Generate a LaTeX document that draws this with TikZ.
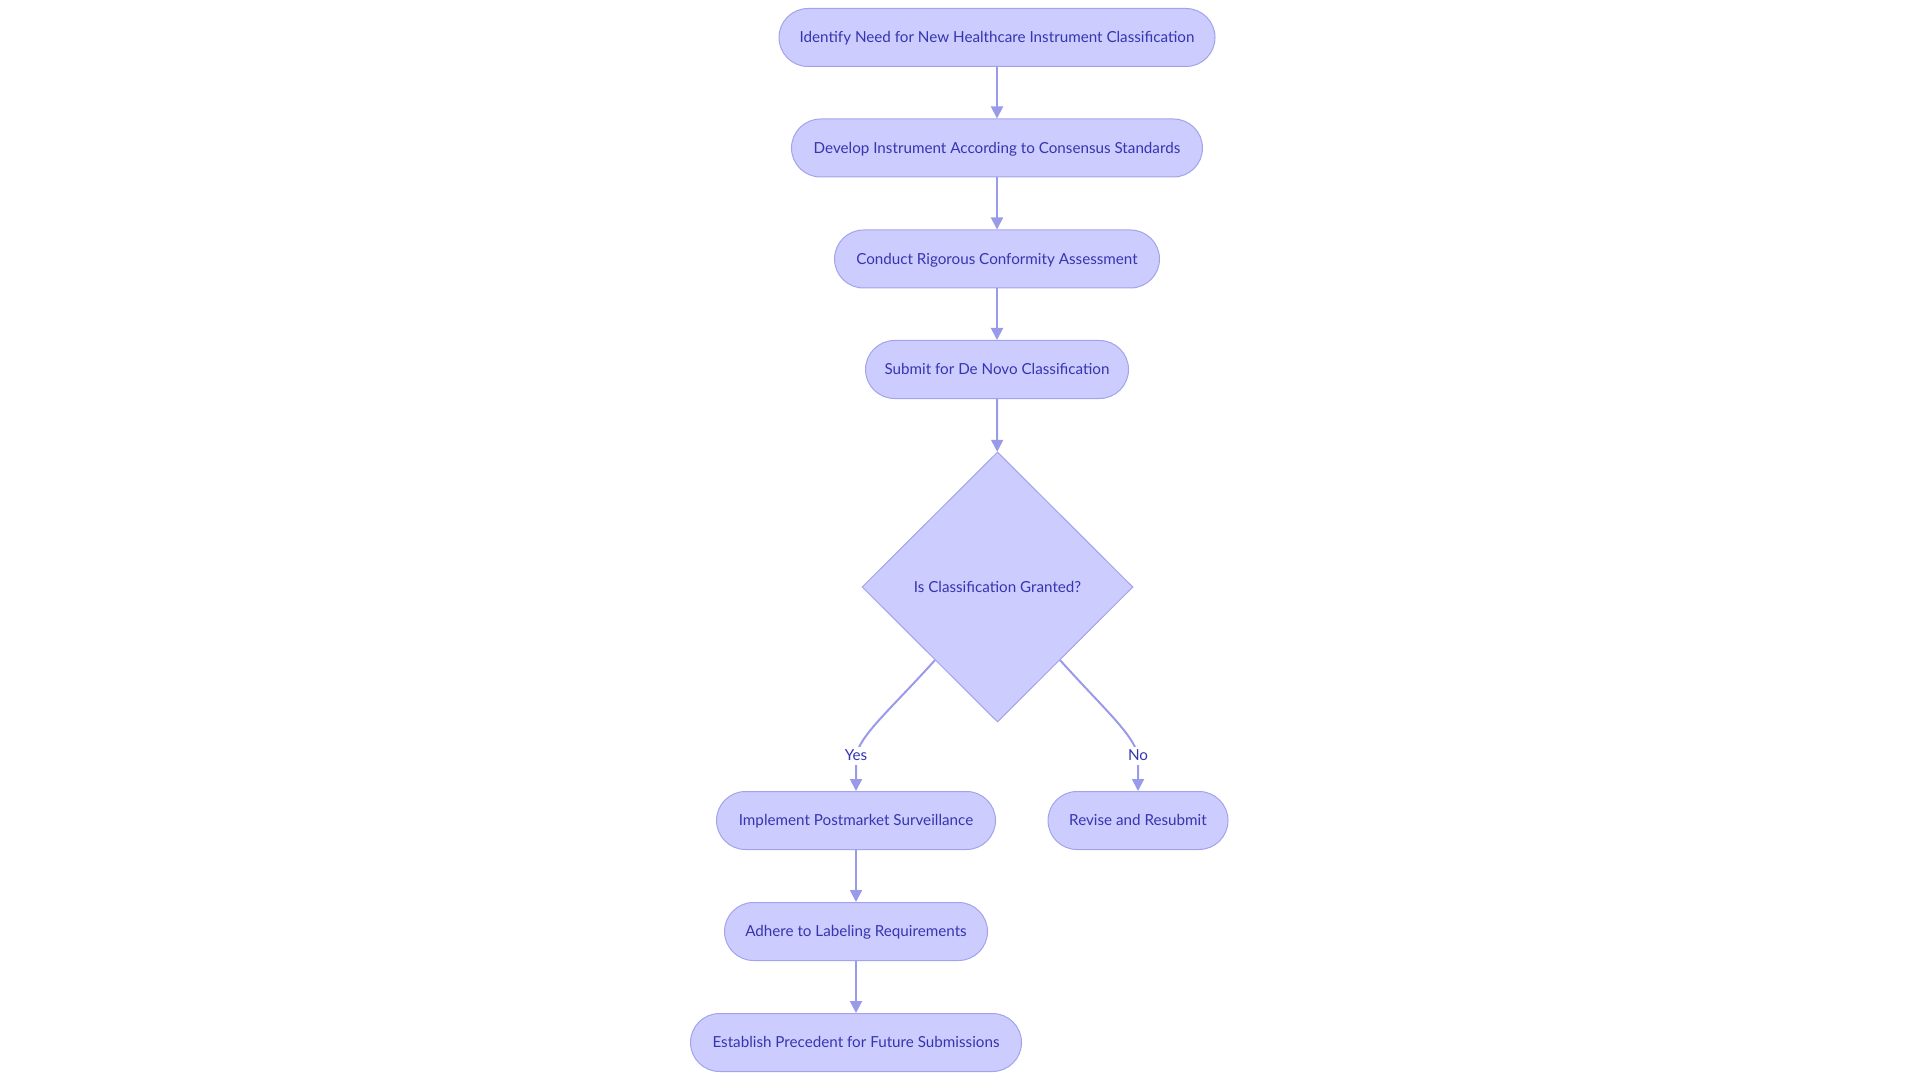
\documentclass[tikz,border=0pt]{standalone}
\usepackage{fontspec}
\setmainfont{Lato}
\usetikzlibrary{shapes.geometric,arrows.meta,calc}
\definecolor{boxfill}{HTML}{CCCCFF}
\definecolor{boxline}{HTML}{A3A3EC}
\definecolor{edgecol}{HTML}{9A9AEA}
\definecolor{txt}{HTML}{3535B0}
\begin{document}
\begin{tikzpicture}[x=0.5pt,y=-0.5pt,
  stepbox/.style={draw=boxline,fill=boxfill,line width=0.5pt,rounded corners=14.5pt,
    minimum height=29pt,inner sep=0pt,text height=6.4pt,text depth=1pt,text=txt,font=\fontsize{7.6pt}{9pt}\selectfont},
  decide/.style={diamond,draw=boxline,fill=boxfill,line width=0.5pt,minimum width=135.5pt,
    minimum height=135pt,inner sep=0pt,text height=6.4pt,text depth=1pt,text=txt,font=\fontsize{7.6pt}{9pt}\selectfont},
  conn/.style={draw=edgecol,line width=1pt,-{Triangle[length=6pt,width=6pt]}},
  lbl/.style={fill=white,inner sep=1pt,text height=5.6pt,text depth=1.4pt,text=txt,font=\fontsize{7.6pt}{9pt}\selectfont}]
\useasboundingbox (0,0) rectangle (1920,1080);
\node[stepbox,minimum width=218pt] (n1) at (997,37.5) {Identify Need for New Healthcare Instrument Classification};
\node[stepbox,minimum width=205.5pt] (n2) at (997,148) {Develop Instrument According to Consensus Standards};
\node[stepbox,minimum width=162.5pt] (n3) at (997,259) {Conduct Rigorous Conformity Assessment};
\node[stepbox,minimum width=131.5pt] (n4) at (997,369.5) {Submit for De Novo Classification};
\node[decide] (dia) at (997.5,587) {Is Classification Granted?};
\node[stepbox,minimum width=139.5pt] (n5) at (856,820.5) {Implement Postmarket Surveillance};
\node[stepbox,minimum width=90pt] (n6) at (1138,820.5) {Revise and Resubmit};
\node[stepbox,minimum width=131.5pt] (n7) at (856,931.5) {Adhere to Labeling Requirements};
\node[stepbox,minimum width=165.5pt] (n8) at (856,1042.5) {Establish Precedent for Future Submissions};
\draw[conn] (n1) -- (n2);
\draw[conn] (n2) -- (n3);
\draw[conn] (n3) -- (n4);
\draw[conn] (n4) -- (dia);
\coordinate (ys) at ($(dia.west)!0.54!(dia.south)$);
\coordinate (ns) at ($(dia.east)!0.54!(dia.south)$);
\coordinate (yl) at (n5.north |- 0,756);
\coordinate (nl) at (n6.north |- 0,756);
\draw[conn] (ys) .. controls (890,710) and (860,735) .. (yl) -- (n5.north);
\draw[conn] (ns) .. controls (1105,710) and (1134,735) .. (nl) -- (n6.north);
\node[lbl] (ylbl) at (yl) {Yes};
\node[lbl] (nlbl) at (nl) {No};
\draw[conn] (n5) -- (n7);
\draw[conn] (n7) -- (n8);
\end{tikzpicture}
\end{document}
